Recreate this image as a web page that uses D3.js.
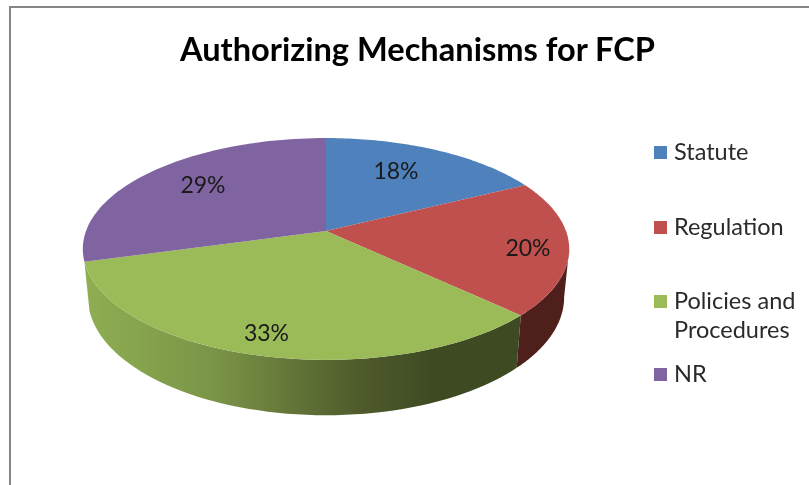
<!DOCTYPE html>
<html>
<head>
<meta charset="utf-8">
<script src="https://cdn.jsdelivr.net/npm/d3@7"></script>
<style>
  html, body { margin: 0; padding: 0; background: #fff; overflow: hidden; }
  svg { display: block; filter: blur(0.35px); }
  text { font-family: Lato, "Open Sans", sans-serif; }
</style>
</head>
<body>
<svg id="chart"></svg>
<script>
const chartTitle = "Authorizing Mechanisms for FCP";
const categories = ["Statute", "Regulation", "Policies and Procedures", "NR"];
const values = [17.5, 19.7, 33.4, 29.4];
const colors = ["#4f81bd", "#c0504d", "#9bbb59", "#8064a2"];

const width = 809;
const height = 485;

const svg = d3.select("#chart")
    .attr("width", width)
    .attr("height", height)
    .attr("viewBox", `0 0 ${width} ${height}`);

// frame of the chart, only top and left are in the crop
svg.append("path")
    .attr("d", `M10,${height} V7 H${width}`)
    .attr("fill", "none")
    .attr("stroke", "#858585")
    .attr("stroke-width", 2);

svg.append("text")
    .attr("x", 417.5)
    .attr("y", 61)
    .attr("text-anchor", "middle")
    .attr("font-size", 32.6)
    .attr("font-weight", "bold")
    .attr("fill", "#000")
    .text(chartTitle);

const pie = d3.pie().sort(null)(values);

// the tilted disc: circle angle to screen, with some perspective
function project(a, w, h, cy, p) {
  const u = Math.sin(a);
  const v = -Math.cos(a);
  const d = 1 - p * v;
  return [326 + w * u / d, cy + h * v / d];
}
const topRim = a => project(a, 240, 108, 231, 0.162);
const lowRim = a => project(a, 235, 115, 278, 0.162);

const line = d3.line();
const arcAngles = (a0, a1) => d3.range(0, 61).map(i => a0 + (a1 - a0) * i / 60);

const defs = svg.append("defs");

function sideGradient(id, x1, x2, stops) {
  const g = defs.append("linearGradient")
      .attr("id", id)
      .attr("gradientUnits", "userSpaceOnUse")
      .attr("x1", x1).attr("x2", x2).attr("y1", 0).attr("y2", 0);
  stops.forEach(s => g.append("stop").attr("offset", s[0]).attr("stop-color", s[1]));
}
sideGradient("sideGreen", 85, 520, [[0, "#8fae52"], [0.3, "#7a9447"], [0.63, "#4f5b2c"], [0.8, "#3e4a22"], [1, "#3e4a22"]]);

// wall first, only the front part of the rim shows
const wall = svg.append("g");
const sides = [
  { slice: 1, fill: "#4f1f1c" },
  { slice: 2, fill: "url(#sideGreen)" }
];
// 99.3 deg is where the rim is widest on screen, the wall outline starts there
const rightEdge = 99.3 * Math.PI / 180;
sides.forEach(s => {
  const d = pie[s.slice];
  const a0 = Math.max(d.startAngle, rightEdge);
  const a1 = d.endAngle;
  const as = arcAngles(a0, a1);
  const pts = as.map(topRim).concat(as.slice().reverse().map(lowRim));
  wall.append("path")
      .attr("d", line(pts) + "Z")
      .attr("fill", s.fill);
});

svg.append("g")
    .selectAll("path")
    .data(pie)
    .enter().append("path")
    .attr("fill", (d, i) => colors[i])
    .attr("d", d => line([[326, 231]].concat(arcAngles(d.startAngle, d.endAngle).map(topRim))) + "Z");

// data labels
const labelPos = [[396, 179], [528, 256], [266.5, 341], [203, 193]];
svg.append("g")
    .selectAll("text")
    .data(values)
    .enter().append("text")
    .attr("x", (d, i) => labelPos[i][0])
    .attr("y", (d, i) => labelPos[i][1])
    .attr("text-anchor", "middle")
    .attr("font-size", 23)
    .attr("fill", "#1a1a1a")
    .text(d => Math.round(d) + "%");

// legend
const legendRows = [["Statute"], ["Regulation"], ["Policies and", "Procedures"], ["NR"]];
const legendY = [160, 235, 309, 382];
const legend = svg.append("g");
legendRows.forEach((rows, i) => {
  legend.append("rect")
      .attr("x", 654).attr("y", legendY[i] - 14)
      .attr("width", 13).attr("height", 13)
      .attr("fill", colors[i]);
  rows.forEach((r, j) => {
    legend.append("text")
        .attr("x", 674)
        .attr("y", legendY[i] + j * 29)
        .attr("font-size", 23.5)
        .attr("fill", "#2a2a2a")
        .text(r);
  });
});
</script>
</body>
</html>
